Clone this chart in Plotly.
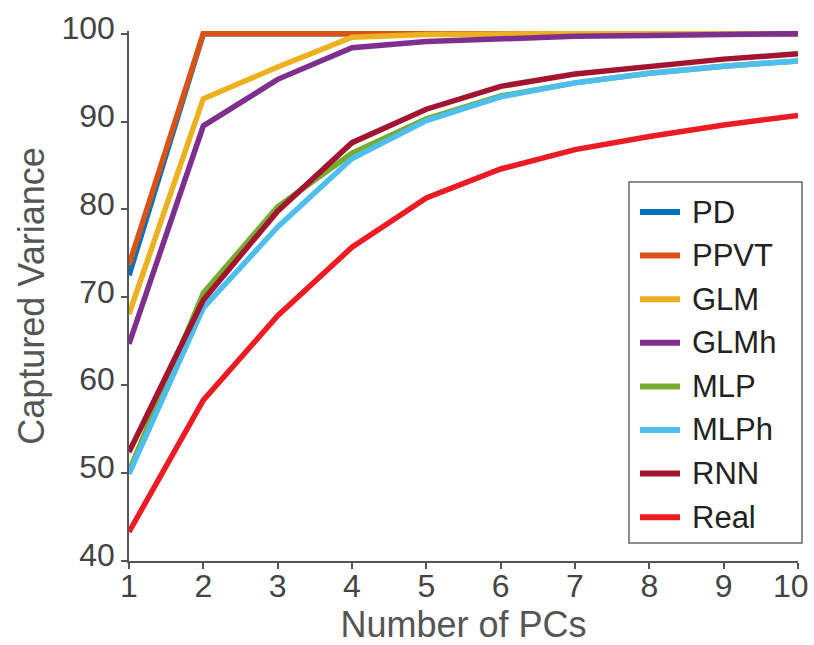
import plotly.graph_objects as go

pcs = [1, 2, 3, 4, 5, 6, 7, 8, 9, 10]
pc_labels = ["1", "2", "3", "4", "5", "6", "7", "8", "9", "10"]
y_ticks = [40, 50, 60, 70, 80, 90, 100]
names = ["PD", "PPVT", "GLM", "GLMh", "MLP", "MLPh", "RNN", "Real"]
colors = ["#0072BD", "#D95319", "#EDB120", "#7E2F8E", "#77AC30", "#4DBEEE", "#A2142F", "#ED1C24"]

pd_vals = [72.5, 100, 100, 100, 100, 100, 100, 100, 100, 100]
ppvt_vals = [73.7, 100, 100, 100, 100, 100, 100, 100, 100, 100]
glm_vals = [68.1, 92.6, 96.2, 99.6, 99.9, 100, 100, 100, 100, 100]
glmh_vals = [64.7, 89.5, 94.8, 98.4, 99.1, 99.4, 99.7, 99.8, 99.9, 100]
mlp_vals = [50.2, 70.5, 80.3, 86.4, 90.3, 92.9, 94.4, 95.5, 96.3, 96.9]
mlph_vals = [49.9, 68.8, 78.0, 85.8, 90.1, 92.8, 94.4, 95.5, 96.3, 96.9]
rnn_vals = [52.4, 69.7, 79.8, 87.6, 91.4, 94.0, 95.4, 96.3, 97.1, 97.7]
real_vals = [43.3, 58.3, 67.9, 75.7, 81.3, 84.6, 86.8, 88.3, 89.6, 90.7]

series = [pd_vals, ppvt_vals, glm_vals, glmh_vals, mlp_vals, mlph_vals, rnn_vals, real_vals]

W, H = 814, 645
ML, MR, MT, MB = 129, 16, 31, 84
PW, PH = W - ML - MR, H - MT - MB
FONT = "Liberation Sans, Arial"


def px_x(p):
    return (p - ML) / PW


def px_y(p):
    return (H - MB - p) / PH


fig = go.Figure()
for name, col, vals in zip(names, colors, series):
    fig.add_trace(go.Scatter(x=pcs, y=vals, mode="lines", name=name, showlegend=False,
                             line=dict(color=col, width=5.5)))

# legend drawn in paper coordinates
shapes = [dict(type="rect", xref="paper", yref="paper",
               x0=px_x(629), x1=px_x(802), y0=px_y(543), y1=px_y(182),
               line=dict(color="#666666", width=1.5), fillcolor="white", layer="above")]
annotations = []
for i, (name, col) in enumerate(zip(names, colors)):
    yy = px_y(212 + 43.6 * i)
    shapes.append(dict(type="line", xref="paper", yref="paper",
                       x0=px_x(640), x1=px_x(680), y0=yy, y1=yy,
                       line=dict(color=col, width=6), layer="above"))
    annotations.append(dict(text=name, xref="paper", yref="paper", x=px_x(690), y=yy,
                            xanchor="left", yanchor="middle", showarrow=False,
                            font=dict(family=FONT, size=31, color="#222222")))

# last x tick label is nudged inward so it stays inside the figure
tick_text = pc_labels[:-1] + [""]
annotations.append(dict(text=pc_labels[-1], xref="x", yref="paper", x=pcs[-1], y=px_y(586),
                        xanchor="center", yanchor="middle", xshift=-7, showarrow=False,
                        font=dict(family=FONT, size=32, color="#444444")))

axis_common = dict(
    showgrid=False, zeroline=False, showline=True, linecolor="#555555", linewidth=1.5,
    ticks="outside", ticklen=6, tickcolor="#555555", tickwidth=1.5, automargin=False,
    tickfont=dict(family=FONT, size=32, color="#444444"),
)

fig.update_layout(
    width=W, height=H,
    margin=dict(l=ML, r=MR, t=MT, b=MB),
    paper_bgcolor="white", plot_bgcolor="white",
    xaxis=dict(range=[1, 10], tickvals=pcs, ticktext=tick_text, ticklabelstandoff=-10,
               **axis_common,
               title=dict(text="Number of PCs", standoff=4,
                          font=dict(family=FONT, size=36, color="#555555"))),
    yaxis=dict(range=[40, 100.3], tickvals=y_ticks, ticklabelshift=-6, **axis_common,
               title=dict(text="Captured Variance", standoff=6,
                          font=dict(family=FONT, size=36, color="#555555"))),
    shapes=shapes,
    annotations=annotations,
    showlegend=False,
)

fig.write_html("out.html")
